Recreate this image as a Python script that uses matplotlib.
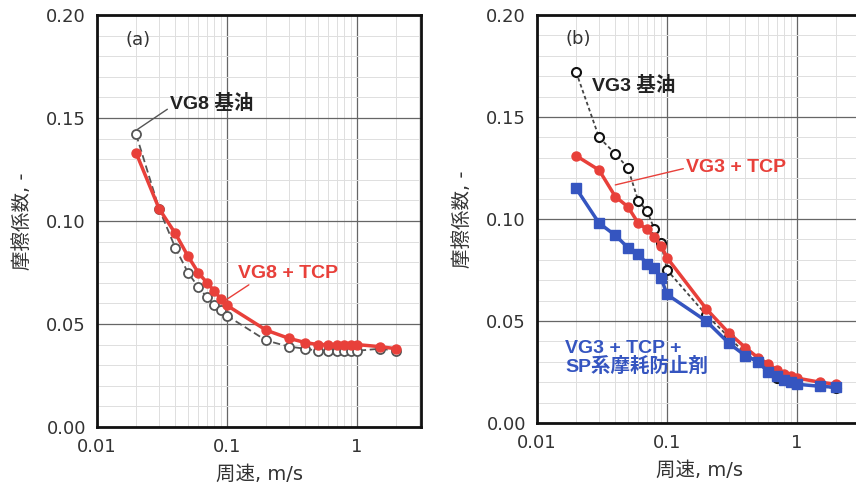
import matplotlib
matplotlib.use("Agg")
import matplotlib.pyplot as plt
from matplotlib.ticker import FixedLocator, NullFormatter, FixedFormatter, LogLocator

plt.rcParams['font.family'] = ['DejaVu Sans', 'Noto Sans CJK JP']
BOLDFAM = ['Liberation Sans', 'Noto Sans CJK JP']

# Panel (a)
speed_a = [0.02, 0.03, 0.04, 0.05, 0.06, 0.07, 0.08, 0.09, 0.1, 0.2, 0.3, 0.4, 0.5, 0.6, 0.7, 0.8, 0.9, 1.0, 1.5, 2.0]
vg8_base = [0.142, 0.106, 0.087, 0.075, 0.068, 0.063, 0.059, 0.057, 0.054, 0.042, 0.039, 0.038, 0.037, 0.037, 0.037, 0.037, 0.037, 0.037, 0.038, 0.037]
vg8_tcp = [0.133, 0.106, 0.094, 0.083, 0.075, 0.070, 0.066, 0.062, 0.059, 0.047, 0.043, 0.041, 0.040, 0.040, 0.040, 0.040, 0.040, 0.040, 0.039, 0.038]

# Panel (b)
speed_b = [0.02, 0.03, 0.04, 0.05, 0.06, 0.07, 0.08, 0.09, 0.1, 0.2, 0.3, 0.4, 0.5, 0.6, 0.7, 0.8, 0.9, 1.0, 1.5, 2.0]
vg3_base = [0.172, 0.140, 0.132, 0.125, 0.109, 0.104, 0.095, 0.088, 0.075, 0.053, 0.042, 0.034, 0.030, 0.026, 0.022, 0.021, 0.020, 0.019, 0.018, 0.017]
vg3_tcp = [0.131, 0.124, 0.111, 0.106, 0.098, 0.095, 0.091, 0.087, 0.081, 0.056, 0.044, 0.037, 0.032, 0.029, 0.026, 0.024, 0.023, 0.022, 0.020, 0.019]
vg3_tcp_sp = [0.115, 0.098, 0.092, 0.086, 0.083, 0.078, 0.076, 0.071, 0.063, 0.050, 0.039, 0.033, 0.030, 0.025, 0.023, 0.021, 0.020, 0.019, 0.018, 0.0175]

yticks = [0.00, 0.05, 0.10, 0.15, 0.20]
ytick_labels = ['0.00', '0.05', '0.10', '0.15', '0.20']
xticks = [0.01, 0.1, 1]
xtick_labels = ['0.01', '0.1', '1']

RED = '#e8403a'
BLUE = '#3555c0'
DARK = '#444444'

fig = plt.figure(figsize=(8.56, 4.95), dpi=100)
ax1 = fig.add_axes([97/856, 1-427/495, 324/856, 412/495])
ax2 = fig.add_axes([537/856, 1-423/495, 324/856, 408/495])

for ax in (ax1, ax2):
    ax.set_xscale('log')
    ax.set_xlim(0.01, 3.1)
    ax.set_ylim(0, 0.2)
    ax.xaxis.set_major_locator(FixedLocator(xticks))
    ax.xaxis.set_major_formatter(FixedFormatter(xtick_labels))
    ax.xaxis.set_minor_locator(LogLocator(base=10, subs=range(2, 10)))
    ax.xaxis.set_minor_formatter(NullFormatter())
    ax.yaxis.set_major_locator(FixedLocator(yticks))
    ax.yaxis.set_major_formatter(FixedFormatter(ytick_labels))
    ax.yaxis.set_minor_locator(FixedLocator([i/100 for i in range(21)]))
    ax.grid(which='major', color='#666666', lw=0.9)
    ax.grid(which='minor', color='#dedede', lw=0.7)
    ax.set_axisbelow(True)
    for s in ax.spines.values():
        s.set_linewidth(2.0)
        s.set_color('#111111')
    ax.tick_params(which='both', length=0, labelsize=13, colors='#333333', pad=8)
    ax.set_xlabel('周速, m/s', fontsize=14, color='#333333', labelpad=6)
    ax.set_ylabel('摩擦係数, -', fontsize=14, color='#333333', labelpad=10)

# Panel (a)
ax1.plot(speed_a, vg8_base, ls=(0, (4, 2)), color='#555555', lw=1.3, marker='o', ms=6.5,
         mfc='white', mec='#555555', mew=1.3, zorder=3)
ax1.plot(speed_a, vg8_tcp, '-', color=RED, lw=2.5, marker='o', ms=6.5, mfc=RED, mec=RED, zorder=4)
ax1.text(0.0165, 0.188, '(a)', fontsize=13, color='#333333', ha='left', va='center')
ax1.annotate('VG8 基油', xy=(0.0205, 0.1445), xytext=(0.0365, 0.157), fontsize=14, fontweight='bold',
             family=BOLDFAM, color='#222222', ha='left', va='center',
             arrowprops=dict(arrowstyle='-', color='#555555', lw=1.0, shrinkA=0, shrinkB=0,
                             relpos=(0, 0.3)))
ax1.annotate('VG8 + TCP', xy=(0.097, 0.0615), xytext=(0.1216, 0.0745), fontsize=14, fontweight='bold',
             family=BOLDFAM, color=RED, ha='left', va='center',
             arrowprops=dict(arrowstyle='-', color=RED, lw=1.0, shrinkA=0, shrinkB=0,
                             relpos=(0.15, 0.0)))

# Panel (b)
ax2.plot(speed_b, vg3_base, ls=(0, (2, 1.5)), color=DARK, lw=1.3, marker='o', ms=6.5,
         mfc='white', mec='#111111', mew=1.5, zorder=3)
ax2.plot(speed_b, vg3_tcp, '-', color=RED, lw=2.5, marker='o', ms=6.5, mfc=RED, mec=RED, zorder=4)
ax2.plot(speed_b, vg3_tcp_sp, '-', color=BLUE, lw=2.5, marker='s', ms=7, mfc=BLUE, mec=BLUE, zorder=5)
ax2.text(0.0165, 0.188, '(b)', fontsize=13, color='#333333', ha='left', va='center')
ax2.text(0.0265, 0.1655, 'VG3 基油', fontsize=14, fontweight='bold', family=BOLDFAM,
         color='#222222', ha='left', va='center')
ax2.annotate('VG3 + TCP', xy=(0.04, 0.1167), xytext=(0.14, 0.125), fontsize=14, fontweight='bold',
             family=BOLDFAM, color=RED, ha='left', va='center',
             arrowprops=dict(arrowstyle='-', color=RED, lw=1.0, shrinkA=0, shrinkB=0,
                             relpos=(0, 0.5)))
ax2.text(0.0164, 0.0318, 'VG3 + TCP +\nSP系摩耗防止剤', fontsize=14, fontweight='bold', family=BOLDFAM,
         color=BLUE, ha='left', va='center', linespacing=1.0)

fig.savefig('out.png', dpi=100)
